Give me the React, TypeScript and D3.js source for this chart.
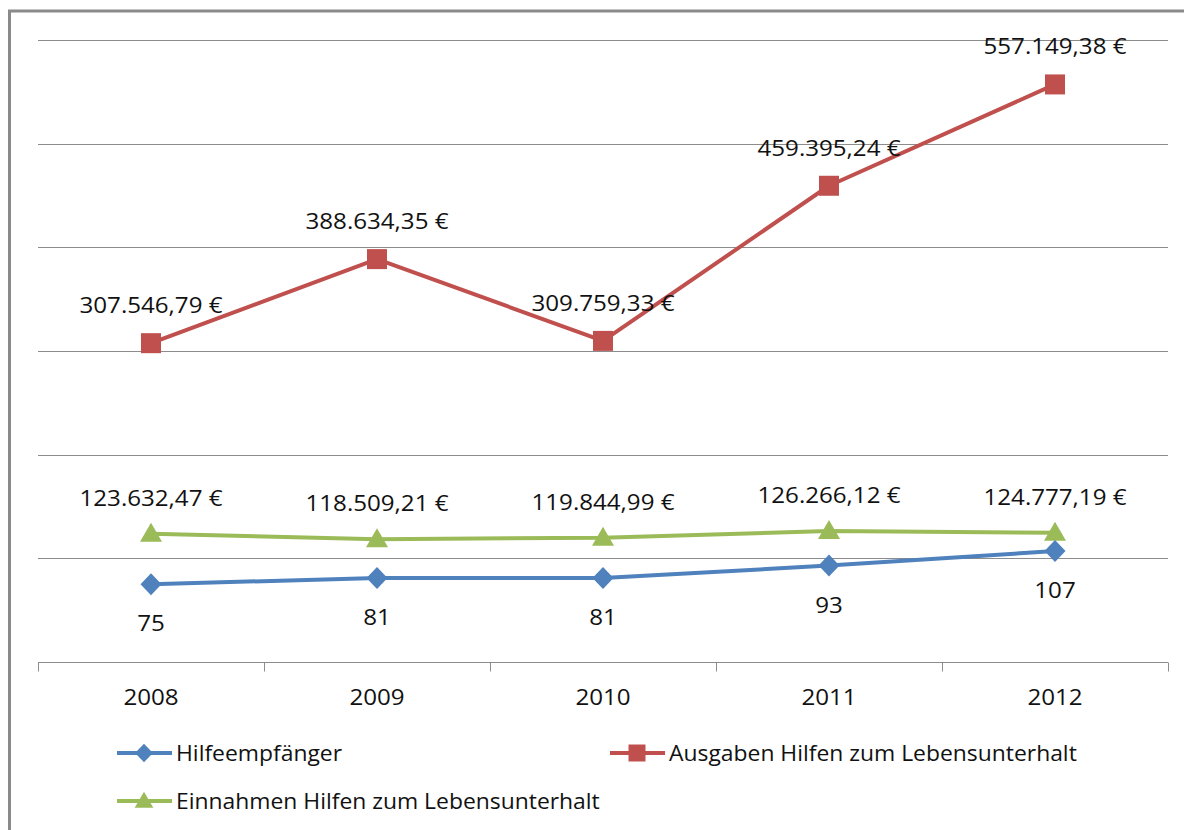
import * as d3 from "d3";
import React, { useEffect, useRef } from "react";

const years = ["2008", "2009", "2010", "2011", "2012"];
const empfaenger = [75, 81, 81, 93, 107];
const ausgaben = [307546.79, 388634.35, 309759.33, 459395.24, 557149.38];
const einnahmen = [123632.47, 118509.21, 119844.99, 126266.12, 124777.19];
const gridTicks = [0, 100000, 200000, 300000, 400000, 500000, 600000];

const legendNames = [
  "Hilfeempfänger",
  "Ausgaben Hilfen zum Lebensunterhalt",
  "Einnahmen Hilfen zum Lebensunterhalt",
];

const BLUE = "#4F81BD";
const RED = "#C0504D";
const GREEN = "#9BBB59";
const FONT = "'Open Sans', sans-serif";
// the reference font (Calibri) runs wider than Open Sans at the same height
const NUM_STRETCH = 1.15;
const TEXT_STRETCH = 1.09;

function App() {
  const ref = useRef<SVGSVGElement | null>(null);

  useEffect(() => {
    const width = 1184;
    const height = 830;
    const margin = { top: 40, right: 16, bottom: 168, left: 38 };

    const svg = d3.select(ref.current);
    svg.selectAll("*").remove();
    svg.attr("width", width).attr("height", height);

    const de = d3.formatLocale({
      decimal: ",",
      thousands: ".",
      grouping: [3],
      currency: ["", " €"],
    });
    const euro = de.format("$,.2f");

    const x = d3
      .scaleBand()
      .domain(years)
      .range([margin.left, width - margin.right]);
    const y = d3
      .scaleLinear()
      .domain([0, 600000])
      .range([height - margin.bottom, margin.top]);
    // hidden secondary axis for the number of recipients
    const y2 = d3
      .scaleLinear()
      .domain([0, 600])
      .range([height - margin.bottom, margin.top]);
    const cx = (i: number) => (x(years[i]) as number) + x.bandwidth() / 2;

    // outer frame (only top and left edges are visible)
    svg
      .append("path")
      .attr("d", `M9.5,${height + 10} V11 H${width + 10}`)
      .attr("fill", "none")
      .attr("stroke", "#8a8a8a")
      .attr("stroke-width", 3);

    // gridlines
    svg
      .append("g")
      .selectAll("line")
      .data(gridTicks.slice(1))
      .join("line")
      .attr("x1", margin.left)
      .attr("x2", width - margin.right)
      .attr("y1", (d) => Math.round(y(d)) + 0.5)
      .attr("y2", (d) => Math.round(y(d)) + 0.5)
      .attr("stroke", "#8c8c8c")
      .attr("stroke-width", 1);

    // category axis
    const axis = svg
      .append("g")
      .attr("transform", `translate(0,${Math.round(y(0)) + 0.5})`);
    axis
      .append("line")
      .attr("x1", margin.left)
      .attr("x2", width - margin.right)
      .attr("stroke", "#8c8c8c");
    axis
      .selectAll("line.tick")
      .data(d3.range(years.length + 1))
      .join("line")
      .attr("class", "tick")
      .attr("x1", (i) => Math.round(margin.left + i * x.bandwidth()) + 0.5)
      .attr("x2", (i) => Math.round(margin.left + i * x.bandwidth()) + 0.5)
      .attr("y1", 0)
      .attr("y2", 9)
      .attr("stroke", "#8c8c8c");
    axis
      .selectAll("text")
      .data(years)
      .join("text")
      .attr("transform", (d, i) => `translate(${cx(i)},42) scale(${NUM_STRETCH},1)`)
      .attr("text-anchor", "middle")
      .attr("font-family", FONT)
      .attr("font-size", 21)
      .attr("fill", "#111")
      .text((d) => d);

    const line = (scale: d3.ScaleLinear<number, number>) =>
      d3
        .line<number>()
        .x((d, i) => cx(i))
        .y((d) => scale(d));

    const series = [
      { values: ausgaben, scale: y, color: RED, marker: "square", label: euro, dy: -30 },
      { values: einnahmen, scale: y, color: GREEN, marker: "triangle", label: euro, dy: -28 },
      { values: empfaenger, scale: y2, color: BLUE, marker: "diamond", label: (v: number) => String(v), dy: 47 },
    ];

    const markerPath = (kind: string) => {
      if (kind === "square") return "M-10,-10H10V10H-10Z";
      if (kind === "triangle") return "M0,-11L11,8H-11Z";
      return "M0,-11L10.5,0L0,11L-10.5,0Z";
    };

    series.forEach((s) => {
      const g = svg.append("g");
      g.append("path")
        .attr("d", line(s.scale)(s.values))
        .attr("fill", "none")
        .attr("stroke", s.color)
        .attr("stroke-width", 4)
        .attr("stroke-linejoin", "round");
      g.selectAll("path.marker")
        .data(s.values)
        .join("path")
        .attr("class", "marker")
        .attr("transform", (d, i) => `translate(${cx(i)},${s.scale(d)})`)
        .attr("d", markerPath(s.marker))
        .attr("fill", s.color);
      g.selectAll("text")
        .data(s.values)
        .join("text")
        .attr(
          "transform",
          (d, i) => `translate(${cx(i)},${s.scale(d) + s.dy}) scale(${NUM_STRETCH},1)`
        )
        .attr("text-anchor", "middle")
        .attr("font-family", FONT)
        .attr("font-size", 21)
        .attr("fill", "#111")
        .text((d) => s.label(d));
    });

    // legend
    const legendItems = [
      { name: legendNames[0], color: BLUE, marker: "diamond", x: 117, y: 753 },
      { name: legendNames[1], color: RED, marker: "square", x: 610, y: 753 },
      { name: legendNames[2], color: GREEN, marker: "triangle", x: 117, y: 801 },
    ];
    const legend = svg
      .append("g")
      .selectAll("g")
      .data(legendItems)
      .join("g")
      .attr("transform", (d) => `translate(${d.x},${d.y})`);
    legend
      .append("line")
      .attr("x1", 0)
      .attr("x2", 55)
      .attr("stroke", (d) => d.color)
      .attr("stroke-width", 4);
    legend
      .append("path")
      .attr("transform", "translate(27,0) scale(0.85)")
      .attr("d", (d) => markerPath(d.marker))
      .attr("fill", (d) => d.color);
    legend
      .append("text")
      .attr("transform", `translate(59,8) scale(${TEXT_STRETCH},1)`)
      .attr("font-family", FONT)
      .attr("font-size", 21)
      .attr("fill", "#111")
      .text((d) => d.name);
  }, []);

  return (
    <div style={{ position: "absolute", left: 0, top: 0 }}>
      <svg ref={ref}></svg>
    </div>
  );
}

export default App;
